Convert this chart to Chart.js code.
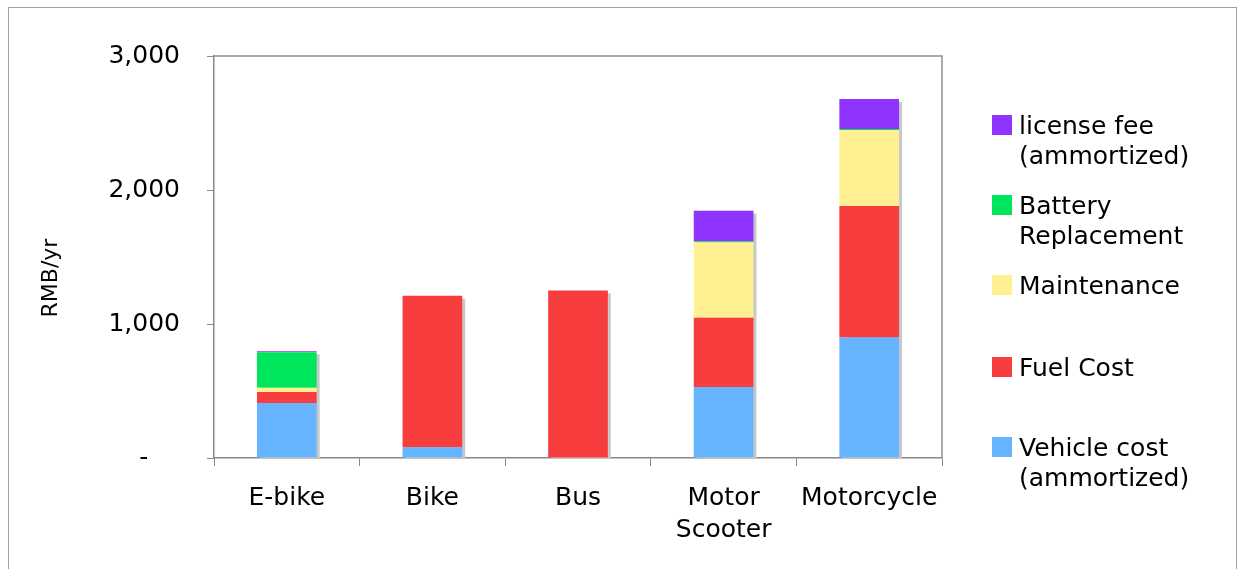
<!DOCTYPE html>
<html lang="en">
<head>
<meta charset="UTF-8">
<title>Annual cost by transport mode</title>
<script src="https://cdn.jsdelivr.net/npm/chart.js"></script>
<style>
  html, body { margin: 0; padding: 0; background: #fff; overflow: hidden; }
  .frame { position: absolute; left: 8px; top: 7px; width: 1227px; height: 600px; border: 1px solid #a0a0a0; }
  #costChart { position: absolute; left: 0; top: 0; }
</style>
</head>
<body>
<div class="frame"></div>
<canvas id="costChart" width="1240" height="569"></canvas>
<script>
const modes = ['E-bike', 'Bike', 'Bus', ['Motor', 'Scooter'], 'Motorcycle'];
const vehicleCost = [410, 80, 0, 530, 900];
const fuelCost = [82, 1130, 1250, 517, 980];
const maintenance = [33, 0, 0, 563, 568];
const batteryReplacement = [264, 0, 0, 8, 8];
const licenseFee = [8, 0, 0, 228, 223];
const yTicks = [0, 1000, 2000, 3000];

const FONT = '"DejaVu Sans", Verdana, sans-serif';

// Excel-style legend on the right, top layer listed first
const sideLegend = {
  id: 'sideLegend',
  afterDraw(chart, args, opts) {
    const ctx = chart.ctx;
    const sets = chart.data.datasets.slice().reverse();
    ctx.save();
    ctx.font = opts.font;
    ctx.textAlign = 'left';
    ctx.textBaseline = 'alphabetic';
    sets.forEach((ds, i) => {
      const base = opts.baselines[i];
      ctx.fillStyle = ds.backgroundColor;
      ctx.fillRect(opts.boxX, base - 19, 20, 20);
      ctx.fillStyle = '#000';
      ds.legendLines.forEach((line, j) => ctx.fillText(line, opts.textX, base + j * opts.lineGap));
    });
    ctx.restore();
  }
};

// grey drop shadow behind each stacked column
const barShadow = {
  id: 'barShadow',
  beforeDatasetsDraw(chart, args, opts) {
    const ctx = chart.ctx, y = chart.scales.y;
    const meta = chart.getDatasetMeta(0);
    const zero = y.getPixelForValue(0);
    ctx.save();
    ctx.fillStyle = opts.color;
    meta.data.forEach((bar, i) => {
      const total = chart.data.datasets.reduce((s, ds) => s + ds.data[i], 0);
      const top = y.getPixelForValue(total) + opts.offset;
      ctx.fillRect(bar.x - bar.width / 2 + opts.offset, top, bar.width, zero - top);
    });
    ctx.restore();
  }
};

// top and right edges of the plot box, plus the rotated axis title
const plotFrame = {
  id: 'plotFrame',
  afterDraw(chart, args, opts) {
    const {ctx, chartArea: a} = chart;
    ctx.save();
    ctx.strokeStyle = opts.color;
    ctx.lineWidth = 1.5;
    ctx.beginPath();
    ctx.moveTo(a.left, a.top);
    ctx.lineTo(a.right, a.top);
    ctx.lineTo(a.right, a.bottom);
    ctx.stroke();
    ctx.translate(opts.titleX, opts.titleY);
    ctx.rotate(-Math.PI / 2);
    ctx.font = opts.titleFont;
    ctx.fillStyle = '#000';
    ctx.textAlign = 'center';
    ctx.textBaseline = 'middle';
    ctx.fillText(opts.title, 0, 0);
    ctx.restore();
  }
};

new Chart(document.getElementById('costChart'), {
  type: 'bar',
  data: {
    labels: modes,
    datasets: [
      { label: 'Vehicle cost (ammortized)', legendLines: ['Vehicle cost', '(ammortized)'], data: vehicleCost, backgroundColor: '#66B3FF' },
      { label: 'Fuel Cost', legendLines: ['Fuel Cost'], data: fuelCost, backgroundColor: '#F73D3D' },
      { label: 'Maintenance', legendLines: ['Maintenance'], data: maintenance, backgroundColor: '#FFF192' },
      { label: 'Battery Replacement', legendLines: ['Battery', 'Replacement'], data: batteryReplacement, backgroundColor: '#00E65C' },
      { label: 'license fee (ammortized)', legendLines: ['license fee', '(ammortized)'], data: licenseFee, backgroundColor: '#8F33FF' }
    ]
  },
  options: {
    responsive: false,
    animation: false,
    layout: { padding: { top: 56, right: 298, bottom: 0, left: 0 } },
    datasets: { bar: { barPercentage: 0.41, categoryPercentage: 1, borderWidth: 0 } },
    plugins: {
      legend: { display: false },
      tooltip: { enabled: false },
      sideLegend: { font: '25px ' + FONT, boxX: 992, textX: 1019, lineGap: 30, baselines: [134, 214, 294, 376, 456] },
      barShadow: { color: '#c8c8c8', offset: 3 },
      plotFrame: { color: '#909090', title: 'RMB/yr', titleFont: '22px ' + FONT, titleX: 51, titleY: 278 }
    },
    scales: {
      x: {
        stacked: true,
        grid: { drawOnChartArea: false, tickLength: 8, color: '#888', offset: true },
        border: { color: '#888', width: 1.5 },
        ticks: { color: '#000', font: { family: FONT, size: 25, lineHeight: 1.28 }, padding: 16, maxRotation: 0, autoSkip: false },
        afterFit(scale) { scale.height = 111; }
      },
      y: {
        stacked: true,
        min: 0,
        max: 3000,
        afterBuildTicks(scale) { scale.ticks = yTicks.map(v => ({ value: v })); },
        grid: { drawOnChartArea: false, tickLength: 7, color: '#888' },
        border: { color: '#888', width: 1.5 },
        ticks: {
          color: '#000',
          font: { family: FONT, size: 25 },
          padding: 27,
          callback: v => v === 0 ? '-    ' : v.toLocaleString('en-US')
        },
        afterFit(scale) { scale.width = 214; }
      }
    }
  },
  plugins: [barShadow, sideLegend, plotFrame]
});
</script>
</body>
</html>
